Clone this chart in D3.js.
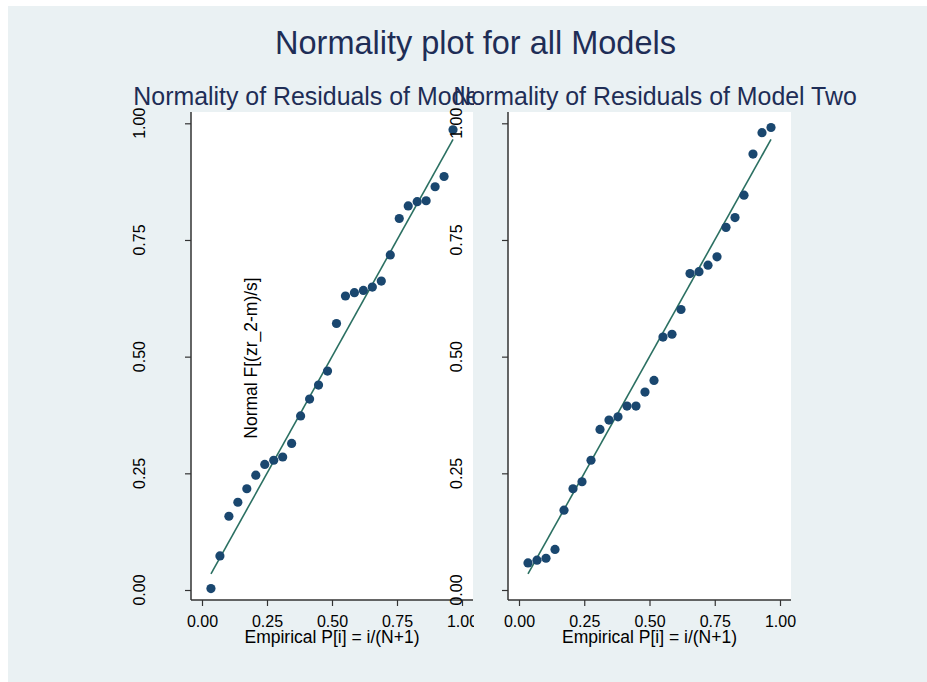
<!DOCTYPE html>
<html>
<head>
<meta charset="utf-8">
<script src="https://cdn.jsdelivr.net/npm/d3@7"></script>
<style>
  body { margin: 0; background: #fff; }
  text { font-family: "Liberation Sans", Arial, sans-serif; }
</style>
</head>
<body>
<svg id="chart"></svg>
<script>
// Chart size
const svgWidth = 927;
const svgHeight = 682;

// Data
const ticks = [0, 0.25, 0.5, 0.75, 1];
const tickLabels = ['0.00', '0.25', '0.50', '0.75', '1.00'];
const titleMain = 'Normality plot for all Models';
const panelTitles = ['Normality of Residuals of Model One', 'Normality of Residuals of Model Two'];
const xTitle = 'Empirical P[i] = i/(N+1)';
const yTitle = 'Normal F[(zr_2-m)/s]';

// Normal F of sorted residuals, model one (28 obs)
const modelOne = [0.003, 0.073, 0.158, 0.188, 0.217, 0.246, 0.269, 0.278, 0.285, 0.314,
                  0.373, 0.409, 0.439, 0.469, 0.571, 0.630, 0.637, 0.642, 0.649, 0.662,
                  0.718, 0.796, 0.823, 0.832, 0.834, 0.864, 0.886, 0.986];
// Normal F of sorted residuals, model two (28 obs)
const modelTwo = [0.058, 0.064, 0.068, 0.087, 0.171, 0.217, 0.232, 0.278, 0.344, 0.364,
                  0.371, 0.394, 0.394, 0.424, 0.449, 0.542, 0.548, 0.601, 0.678, 0.682,
                  0.696, 0.714, 0.777, 0.798, 0.846, 0.934, 0.980, 0.991];

// Colours
const bgColor = '#eaf1f3';
const titleColor = '#1e2d56';
const dotColor = '#1a476f';
const lineColor = '#2b7062';

const svg = d3.select('#chart')
    .attr('width', svgWidth)
    .attr('height', svgHeight);

// graph region
svg.append('rect')
    .attr('x', 8).attr('y', 6)
    .attr('width', svgWidth - 8).attr('height', svgHeight - 6)
    .style('fill', bgColor);

svg.append('text')
    .attr('x', 475.5).attr('y', 53.5)
    .attr('text-anchor', 'middle')
    .style('font-size', '32.5px')
    .style('fill', titleColor)
    .text(titleMain);

// left panel is clipped at its own region edge
svg.append('clipPath').attr('id', 'clipLeft')
    .append('rect').attr('x', 0).attr('y', 0).attr('width', 474).attr('height', svgHeight);

const panels = [
    { data: modelOne, title: panelTitles[0], left: 191, right: 473, clip: 'url(#clipLeft)', titleX: 336, showYTitle: false },
    { data: modelTwo, title: panelTitles[1], left: 508, right: 791, clip: null, titleX: 655, showYTitle: true }
];
const plotTop = 112, plotBottom = 600;

panels.forEach(p => {
    const g = svg.append('g');
    if (p.clip) g.attr('clip-path', p.clip);

    const n = p.data.length;
    const x = d3.scaleLinear().domain([0, 1]).range([p.left + 11, p.right - 11]);
    const y = d3.scaleLinear().domain([0, 1]).range([590, 123.3]);

    g.append('rect')
        .attr('x', p.left).attr('y', plotTop)
        .attr('width', p.right - p.left).attr('height', plotBottom - plotTop)
        .style('fill', 'white');

    g.append('text')
        .attr('x', p.titleX).attr('y', 104.5)
        .attr('text-anchor', 'middle')
        .style('font-size', '24.9px')
        .style('fill', titleColor)
        .text(p.title);

    // axes
    const xAxis = d3.axisBottom(x).tickValues(ticks).tickSize(6)
        .tickFormat((d, i) => tickLabels[i]);
    const yAxis = d3.axisLeft(y).tickValues(ticks).tickSize(6).tickFormat('');

    const gx = g.append('g').attr('transform', 'translate(0,' + plotBottom + ')').call(xAxis);
    gx.select('.domain').attr('d', 'M' + p.left + ',0H' + p.right);
    gx.selectAll('text').style('font-size', '16px').style('fill', 'black')
        .style('font-family', '"Liberation Sans", Arial, sans-serif')
        .attr('y', 16).attr('dy', '0.71em');

    const gy = g.append('g').attr('transform', 'translate(' + p.left + ',0)').call(yAxis);
    gy.select('.domain').attr('d', 'M0,' + plotTop + 'V' + plotBottom);

    [gx, gy].forEach(a => {
        a.select('.domain').style('stroke', '#333').style('stroke-width', 1.5);
        a.selectAll('.tick line').style('stroke', '#333').style('stroke-width', 1.2);
    });

    // rotated y tick labels
    g.selectAll('.ylab')
        .data(ticks)
        .enter().append('text')
        .attr('class', 'ylab')
        .attr('transform', d => 'translate(' + (p.left - 46) + ',' + y(d) + ') rotate(-90)')
        .attr('text-anchor', 'middle')
        .style('font-size', '16px')
        .text((d, i) => tickLabels[i]);

    g.append('text')
        .attr('x', (p.left + p.right) / 2).attr('y', 643)
        .attr('text-anchor', 'middle')
        .style('font-size', '17.5px')
        .text(xTitle);

    // reference line y = x from first to last plotting position
    const p0 = 1 / (n + 1), p1 = n / (n + 1);
    g.append('line')
        .attr('x1', x(p0)).attr('y1', y(p0))
        .attr('x2', x(p1)).attr('y2', y(p1))
        .style('stroke', lineColor)
        .style('stroke-width', 1.6);

    g.selectAll('circle')
        .data(p.data)
        .enter().append('circle')
        .attr('cx', (d, i) => x((i + 1) / (n + 1)))
        .attr('cy', d => y(d))
        .attr('r', 4.6)
        .style('fill', dotColor);

    if (p.showYTitle) {
        g.append('text')
            .attr('transform', 'translate(257,358) rotate(-90)')
            .attr('text-anchor', 'middle')
            .style('font-size', '17.5px')
            .text(yTitle);
    }
});
</script>
</body>
</html>
